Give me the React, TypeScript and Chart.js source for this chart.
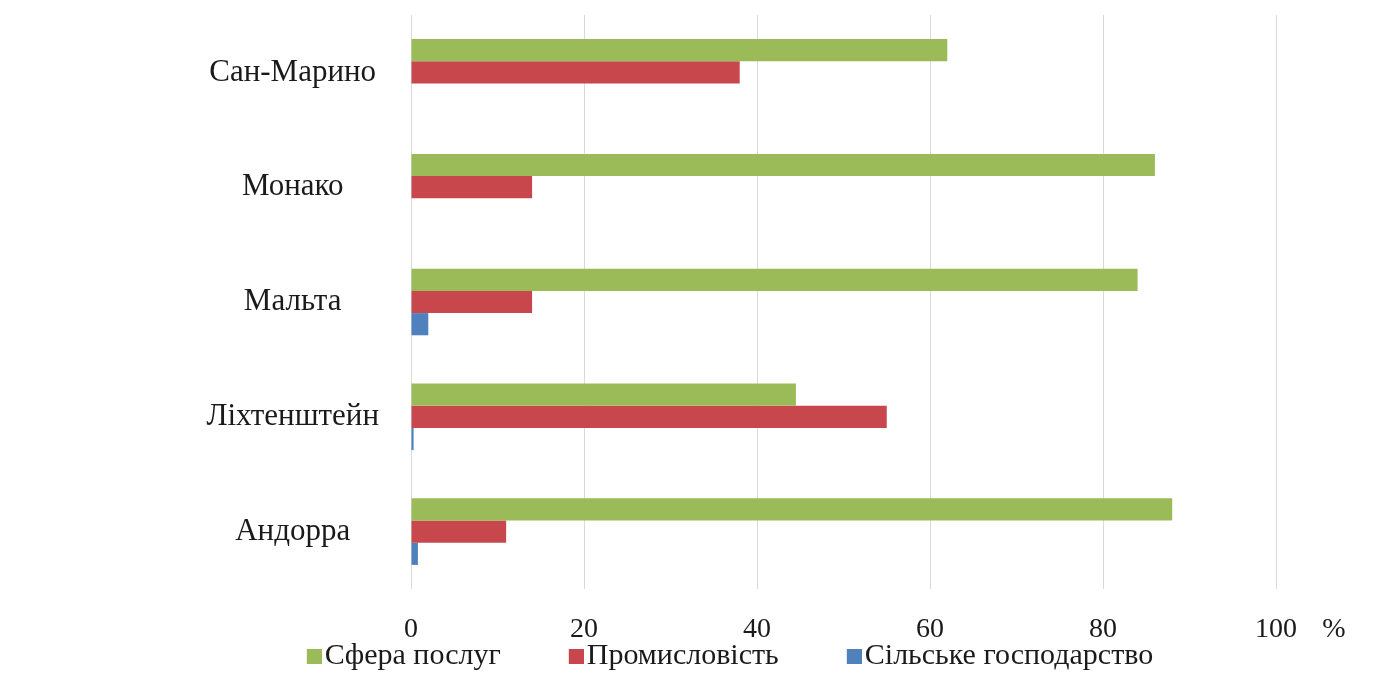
import React, { useEffect, useRef } from "react";
import { Chart, registerables } from "chart.js";

Chart.register(...registerables);

const categories = ["Сан-Марино", "Монако", "Мальта", "Ліхтенштейн", "Андорра"];
const services = [62, 86, 84, 44.5, 88];
const industry = [38, 14, 14, 55, 11];
const agriculture = [0, 0, 2, 0.3, 0.8];
const seriesNames = ["Сфера послуг", "Промисловість", "Сільське господарство"];
const seriesColors = ["#9bbb59", "#c8474c", "#4f81bd"];
const xTicks = [0, 20, 40, 60, 80, 100];
const unitLabel = "%";

const FONT = "'Liberation Serif', 'Times New Roman', serif";
const TICK_SIZE = 28;
const TICK_PAD = 29;
const TICK_LH = 0.8;
const LEGEND_SIZE = 30;
const SWATCH = 15;
const SWATCH_SLOT = 69;
const SWATCH_SHIFT = 12;

function makeSwatch(color: string) {
  const c = document.createElement("canvas");
  c.width = SWATCH_SLOT + 2 * SWATCH_SHIFT;
  c.height = SWATCH;
  const g = c.getContext("2d");
  if (g) {
    g.fillStyle = color;
    g.fillRect(c.width - SWATCH, 0, SWATCH, SWATCH);
  }
  return c;
}

export default function App() {
  const ref = useRef<HTMLCanvasElement | null>(null);

  useEffect(() => {
    if (!ref.current) return;
    const unitPlugin = {
      id: "unitLabel",
      afterDraw(chart: any) {
        const xs = chart.scales.x;
        const ctx = chart.ctx;
        ctx.save();
        ctx.font = `${TICK_SIZE}px ${FONT}`;
        ctx.fillStyle = "#1a1a1a";
        ctx.textAlign = "center";
        ctx.textBaseline = "middle";
        const x = xs.getPixelForValue(xTicks[xTicks.length - 1]) + 58;
        const y = xs.top + TICK_PAD + (TICK_SIZE * TICK_LH) / 2;
        ctx.fillText(unitLabel, x, y);
        ctx.restore();
      },
    };
    const chart = new Chart(ref.current, {
      type: "bar",
      data: {
        labels: categories,
        datasets: [
          { label: seriesNames[0], data: services, backgroundColor: seriesColors[0] },
          { label: seriesNames[1], data: industry, backgroundColor: seriesColors[1] },
          { label: seriesNames[2], data: agriculture, backgroundColor: seriesColors[2] },
        ],
      },
      options: {
        indexAxis: "y",
        animation: false,
        responsive: true,
        maintainAspectRatio: false,
        layout: { padding: { left: 118, right: 115, top: 15, bottom: 0 } },
        datasets: { bar: { categoryPercentage: 0.58, barPercentage: 1.0 } },
        scales: {
          x: {
            min: 0,
            max: 100,
            ticks: {
              stepSize: 20,
              padding: TICK_PAD,
              color: "#1a1a1a",
              font: { family: FONT, size: TICK_SIZE, lineHeight: TICK_LH },
            },
            grid: { color: "#d9d9d9", drawTicks: false },
            border: { display: false },
            afterFit(scale: any) {
              scale.height = 50;
              scale.paddingTop = 0;
              scale.paddingBottom = 0;
            },
          },
          y: {
            ticks: {
              crossAlign: "center",
              padding: 32,
              color: "#1a1a1a",
              font: { family: FONT, size: 31 },
            },
            grid: { display: false, drawTicks: false },
            border: { display: false },
            afterFit(scale: any) {
              scale.width = 293;
              scale.paddingTop = 0;
              scale.paddingBottom = 0;
            },
          },
        },
        plugins: {
          legend: {
            position: "bottom",
            labels: {
              usePointStyle: true,
              pointStyleWidth: SWATCH_SLOT,
              boxHeight: SWATCH,
              padding: 2,
              color: "#1a1a1a",
              font: { family: FONT, size: LEGEND_SIZE },
              generateLabels(chart: any) {
                const items = Chart.defaults.plugins.legend.labels.generateLabels(chart);
                return items.map((it: any, i: number) => ({
                  ...it,
                  pointStyle: makeSwatch(seriesColors[i]),
                  lineWidth: 0,
                }));
              },
            },
          },
          tooltip: { enabled: false },
        },
      },
      plugins: [unitPlugin],
    });
    return () => chart.destroy();
  }, []);

  return (
    <div style={{ position: "fixed", left: 0, top: 0, width: 1391, height: 681, background: "#fff" }}>
      <canvas ref={ref} />
    </div>
  );
}
